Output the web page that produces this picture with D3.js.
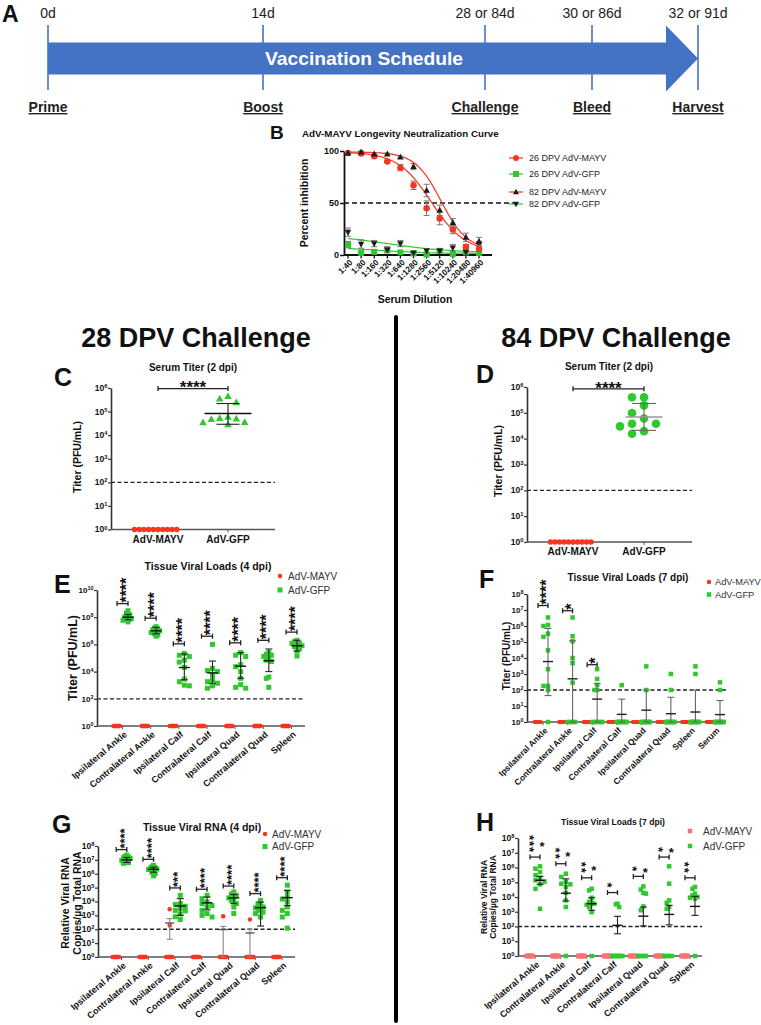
<!DOCTYPE html>
<html><head><meta charset="utf-8">
<script src="https://cdn.jsdelivr.net/npm/d3@7"></script>
<style>body{margin:0;background:#fff}svg{display:block}</style>
</head><body>
<script>
// ================= DATA =================
// Panel A – schedule
const scheduleDayLabels = ["0d","14d","28 or 84d","30 or 86d","32 or 91d"];
const scheduleEvents = ["Prime","Boost","Challenge","Bleed","Harvest"];
const scheduleDays = [0,14,28,30,32];
const scheduleTitle = "Vaccination Schedule";

// Panel B – neutralization
const dilutions = ["1:40","1:80","1:160","1:320","1:640","1:1280","1:2560","1:5120","1:10240","1:20480","1:40960"];
const bNames = ["26 DPV AdV-MAYV","26 DPV AdV-GFP","82 DPV AdV-MAYV","82 DPV AdV-GFP"];
const mayv26 = [98,97.5,95,90,84,67,45,35,24.5,8,6];
const mayv26Err = [1.5,1.5,1.5,1,3,4,7,6,4,2,1.5];
const gfp26 = [10,2,3,5,2.5,1.5,0.5,4,1,2.5,2];
const gfp26Err = [3,1,1,2,1,1,1,1,1,1,1];
const mayv82 = [98,99,97,97,94,85,62,43,31,17,13];
const mayv82Err = [1.5,1,1,1,1,3,6,5,4,4,4];
const gfp82 = [22,10.5,11,5,11,2,4,4,7,3,10];
const gfp82Err = [4,4,3,3,3,1,2,2,3,2,3];
// fitted curves: [top, bottom, mid (dilution index), slope]
const fit26MAYV = [99,3,6.36,0.78];
const fit26GFP = [8,1.5,2,0.5];
const fit82MAYV = [99,5,7.1,1.01];
const fit82GFP = [20,2,3,0.4];

// Panels C / D – serum titer
const serumGroups = ["AdV-MAYV","AdV-GFP"];
const lod10 = [1,1,1,1,1,1,1,1,1,1];
const cGFP = [4.4e5,2.4e5,3.5e5,5.2e4,4.7e4,3.5e4,5.8e4,4.9e4,2.8e4,3.4e4];
const cGFPStats = [8.3e4,2.2e5,2.9e4]; // mean, hi, lo
const cSig = [9.5e5,"****"];
const dGFP = [4.0e5,4.0e5,1.95e5,9.8e4,6.0e4,3.8e4,3.0e4,3.8e4,1.55e4,1.95e4];
const dGFPStats = [6.9e4,2.3e5,2.1e4];
const dSig = [8.5e5,"****"];

// Panel E – tissue viral loads 4 dpi
const tissues7 = ["Ipsilateral Ankle","Contralateral Ankle","Ipsilateral Calf","Contralateral Calf","Ipsilateral Quad","Contralateral Quad","Spleen"];
const eMAYV = [lod10,lod10,lod10,lod10,lod10,lod10,lod10];
const eGFP = [
 [3.0e8,2.0e8,1.5e8,1.2e8,1.0e8,9.0e7,8.0e7,7.0e7,6.0e7,4.5e7],
 [2.0e7,1.6e7,1.4e7,1.2e7,1.0e7,9.0e6,7.5e6,6.0e6,5.0e6,4.0e6],
 [2.2e5,1.6e5,1.3e5,7.0e4,5.0e4,2.0e4,2.8e3,1.8e3,1.0e3,9.0e2],
 [1.0e6,1.7e4,1.2e4,1.0e4,5.6e3,2.5e3,1.8e3,1.4e3,9.0e2,6.0e2],
 [2.5e5,1.6e5,1.3e5,3.2e4,2.3e4,1.0e4,3.2e3,1.1e3,7.0e2,6.0e2],
 [2.5e5,1.9e5,1.6e5,1.3e5,9.0e4,7.0e4,5.5e4,4.0e3,3.2e3,7.0e2],
 [2.0e6,1.6e6,1.2e6,1.2e6,9.0e5,8.0e5,7.0e5,5.0e5,3.2e5,1.4e5]
];
const eGFPMean = [1.0e8,1.0e7,2.0e4,8.0e3,2.5e4,6.3e4,8.0e5];
const eGFPHi = [1.6e8,1.8e7,2.0e5,6.0e4,2.5e5,4.6e5,2.0e6];
const eGFPLo = [6.5e7,6.0e6,2.5e3,1.4e3,3.2e3,1.0e4,3.2e5];
const eBracket = [1.0e9,8.5e7,1.1e6,4.0e6,1.3e6,2.0e6,8.0e6];
const eStars = ["****","****","****","****","****","****","****"];

// Panel F – tissue viral loads 7 dpi
const tissues8 = ["Ipsilateral Ankle","Contralateral Ankle","Ipsilateral Calf","Contralateral Calf","Ipsilateral Quad","Contralateral Quad","Spleen","Serum"];
const fMAYV = [lod10,lod10,lod10,lod10,lod10,lod10,lod10,lod10];
const fGFP = [
 [3.4e6,1.15e6,1.0e6,3.3e5,2.1e5,3.0e4,2.0e3,1.8e2,1.8e2,1.0e2,1],
 [3.4e6,2.3e5,1.1e5,1.0e4,4.8e3,2.9e2,1,1,1,1],
 [2.0e3,4.9e2,2.1e2,1.0e2,1.0e2,1,1,1,1,1],
 [2.0e2,1,1,1,1,1,1,1,1,1],
 [3.0e3,1.0e2,1,1,1,1,1,1,1,1],
 [1.0e3,1.0e2,1,1,1,1,1,1,1,1],
 [3.0e3,1.0e3,1,1,1,1,1,1,1,1],
 [3.0e2,1.0e2,1,1,1,1,1,1,1,1]
];
const fGFPMean = [6.0e3,5.0e2,27,3,5.5,3.3,4.2,2.9];
const fGFPHi = [7.0e5,1.2e5,2.5e2,27,1.0e2,35,1.0e2,22];
const fGFPLo = [45,1,1,1,1,1,1,1];
const fBracket = [1.9e7,9.0e6,3.8e3,null,null,null,null,null];
const fStars = ["****","*","*","","","","",""];

// Panel G – tissue viral RNA 4 dpi
const gMAYV = [lod10,lod10,[2.75e3,1.9e2,1,1,1,1,1,1,1,1],lod10,[8.5e2,1,1,1,1,1,1,1,1,1],[5.0e2,1,1,1,1,1,1,1,1,1],lod10];
const gMAYVMean = [null,null,2.8e2,null,95,54,null];
const gMAYVHi = [null,null,5.8e2,null,1.6e2,1.0e2,null];
const gMAYVLo = [null,null,19,null,1,1,null];
const gGFP = [
 [2.2e7,1.8e7,1.6e7,1.4e7,1.26e7,1.0e7,8.9e6,7.9e6,6.3e6,5.6e6],
 [4.0e6,3.2e6,2.8e6,2.5e6,2.2e6,2.0e6,1.6e6,1.26e6,1.0e6,7.0e5],
 [2.8e4,7.0e3,6.0e3,4.5e3,3.1e3,2.3e3,2.1e3,1.26e3,8.0e2,5.0e2],
 [2.8e4,1.6e4,9.3e3,7.0e3,5.0e3,4.0e3,2.3e3,1.35e3,1.0e3,7.6e2],
 [4.9e4,3.5e4,2.8e4,2.2e4,1.8e4,1.2e4,1.0e4,7.0e3,4.0e3,1.35e3],
 [1.2e4,7.0e3,5.0e3,4.0e3,3.5e3,2.8e3,2.3e3,1.7e3,1.35e3,7.6e2],
 [1.5e5,4.9e4,2.1e4,1.5e4,9.3e3,4.0e3,2.3e3,1.35e3,7.6e2,1.2e2]
];
const gGFPMean = [1.0e7,2.1e6,4.8e3,8.0e3,1.8e4,3.6e3,1.9e4];
const gGFPHi = [1.5e7,3.0e6,1.6e4,2.1e4,3.2e4,9.0e3,6.3e4];
const gGFPLo = [6.5e6,1.3e6,1.0e3,2.5e3,7.0e3,1.7e2,5.0e3];
const gBracket = [5.5e7,1.1e7,9.5e4,7.6e4,1.3e5,3.7e4,5.2e5];
const gStars = ["****","****","***","****","****","****","****"];

// Panel H – tissue viral RNA 7 dpi
const hMAYV = [lod10,lod10,lod10,lod10,lod10,lod10,lod10];
const hGFP = [
 [1.2e6,8.3e5,4.9e5,3.0e5,2.0e5,1.35e5,1.1e5,7.2e4,3.6e4,1.6e3],
 [3.8e5,2.3e5,1.05e5,8.0e4,7.2e4,4.8e4,1.9e4,5.9e3,2.1e3,1],
 [3.6e4,2.8e4,8.9e3,4.6e3,4.0e3,3.5e3,3.0e3,2.1e3,9.5e2,1],
 [3.5e3,3.2e3,2.1e3,1,1,1,1,1,1,1],
 [5.2e4,3.2e4,1.9e4,1.7e4,2.3e3,1.26e3,1,1,1,1],
 [1.2e6,8.0e4,5.9e3,4.0e3,2.1e3,1.6e3,1,1,1,1],
 [4.8e4,3.6e4,1.7e4,1.3e4,1.0e4,9.0e3,7.8e3,1]
];
const hGFPMean = [1.35e5,1.8e4,3.5e3,1.2e2,5.0e2,6.6e2,2.3e3];
const hGFPHi = [2.5e5,1.7e5,8.9e3,4.9e2,2.1e3,2.7e3,1.1e4];
const hGFPLo = [7.2e4,5.4e3,1.26e3,32,1.1e2,1.3e2,5.7e2];
const hBracket = [5.1e6,1.8e6,2.0e5,2.0e4,2.5e5,5.1e6,2.0e5];
const hStarCols = [[3,1],[2,1],[2,1],[1,0],[1,1],[1,1],[2,0]];

const legendNames = ["AdV-MAYV","AdV-GFP"];

// ================= DRAWING =================
const FONT = "'Liberation Sans', Arial, Helvetica, sans-serif";
const RED = "#f9341f", GREEN = "#2fc82f", SALMON = "#f77272", INK = "#111";
const svg = d3.select("body").append("svg").attr("width",761).attr("height",1025)
  .style("font-family",FONT);

function addText(x,y,str,o={}){
  const t = svg.append("text")
    .attr("transform",`translate(${x},${y})`+(o.rotate?` rotate(${o.rotate})`:""))
    .attr("font-size",o.size||10).attr("font-weight",o.weight||"bold")
    .attr("text-anchor",o.anchor||"middle").attr("fill",o.fill||INK).text(str);
  if(o.baseline) t.attr("dominant-baseline",o.baseline);
  if(o.stretch) t.attr("textLength",o.stretch).attr("lengthAdjust","spacingAndGlyphs");
  return t;
}

function marker(g,shape,x,y,size,color){
  if(shape==="circle") g.append("circle").attr("cx",x).attr("cy",y).attr("r",size/2).attr("fill",color);
  else if(shape==="square") g.append("rect").attr("x",x-size/2).attr("y",y-size/2).attr("width",size).attr("height",size).attr("fill",color);
  else {
    const s = shape==="triangle"?1:-1, h=size*0.9;
    g.append("path").attr("d",`M${x},${y-s*h*0.6}L${x+size/2},${y+s*h*0.4}L${x-size/2},${y+s*h*0.4}Z`).attr("fill",color);
  }
}

function swarm(vals,y,cx,step,rad,maxW){
  const pts = vals.map((v,i)=>({v,py:y(v),i,off:0}));
  const order = pts.slice().sort((a,b)=>a.py-b.py);
  const placed=[];
  order.forEach(p=>{
    for(let k=0;k<60;k++){
      const off=(k%2===1?-1:1)*Math.ceil(k/2)*step;
      if(!placed.some(q=>Math.abs(q.off-off)<step*0.99 && Math.abs(q.py-p.py)<rad)){p.off=off;break;}
    }
    placed.push(p);
  });
  const m = d3.max(pts,p=>Math.abs(p.off))||0;
  const s = m>maxW? maxW/m:1;
  return pts.map(p=>cx+p.off*s);
}

function errBar(g,cx,ym,yh,yl,meanW,capW,errColor,meanColor){
  g.append("line").attr("x1",cx).attr("x2",cx).attr("y1",yh).attr("y2",yl).attr("stroke",errColor).attr("stroke-width",1.1);
  [yh,yl].forEach(yy=>g.append("line").attr("x1",cx-capW/2).attr("x2",cx+capW/2).attr("y1",yy).attr("y2",yy).attr("stroke",errColor).attr("stroke-width",1.1));
  g.append("line").attr("x1",cx-meanW/2).attr("x2",cx+meanW/2).attr("y1",ym).attr("y2",ym).attr("stroke",meanColor).attr("stroke-width",1.4);
}

function bracket(g,xa,xb,yy){
  g.append("line").attr("x1",xa).attr("x2",xb).attr("y1",yy).attr("y2",yy).attr("stroke","#222").attr("stroke-width",1.3);
  [xa,xb].forEach(xx=>g.append("line").attr("x1",xx).attr("x2",xx).attr("y1",yy-2.5).attr("y2",yy+2.5).attr("stroke","#222").attr("stroke-width",1.3));
}

function dotPanel(o){
  const g = svg.append("g");
  const y = d3.scaleLog().domain([1,Math.pow(10,o.maxDec)]).range([o.y0,o.yTop]);
  const xc = d3.scalePoint().domain(o.cats).range([o.c0,o.c1]);
  // limit of detection
  g.append("line").attr("x1",o.x0).attr("x2",o.x1).attr("y1",y(100)).attr("y2",y(100))
    .attr("stroke","#222").attr("stroke-width",1.3).attr("stroke-dasharray","4,2.5");
  // y axis
  const yg = g.append("g").attr("transform",`translate(${o.x0},0)`)
    .call(d3.axisLeft(y).tickValues(o.ticks).tickSize(3).tickSizeOuter(0).tickFormat(()=>""));
  yg.select(".domain").attr("stroke","#333").attr("stroke-width",1.6);
  yg.selectAll(".tick line").attr("stroke","#333").attr("stroke-width",1.2);
  yg.selectAll(".tick text").remove();
  o.ticks.forEach(t=>{
    const tt = g.append("text").attr("x",o.x0-3.5).attr("y",y(t)).attr("dy","0.35em").attr("text-anchor","end")
      .attr("font-size",o.tickFont).attr("font-weight","bold").attr("fill",INK);
    tt.append("tspan").text("10");
    tt.append("tspan").attr("dy","-0.5em").attr("font-size",o.tickFont*0.68).text(Math.round(Math.log10(t)));
  });
  // x axis
  g.append("line").attr("x1",o.x0).attr("x2",o.x1).attr("y1",o.y0).attr("y2",o.y0).attr("stroke","#555").attr("stroke-width",1.6);
  o.cats.forEach(c=>g.append("line").attr("x1",xc(c)).attr("x2",xc(c)).attr("y1",o.y0).attr("y2",o.y0+3).attr("stroke","#555").attr("stroke-width",1));
  // series
  o.series.forEach(s=>{
    o.cats.forEach((c,ci)=>{
      const vals = s.data[ci]; if(!vals||!vals.length) return;
      const cx = xc(c)+s.dx;
      const xs = swarm(vals,y,cx,s.step,s.rad,s.maxW);
      vals.forEach((v,i)=>marker(g,s.shape,xs[i],y(v),s.size,s.color));
    });
  });
  o.series.forEach(s=>{
    if(!s.mean) return;
    o.cats.forEach((c,ci)=>{
      if(s.mean[ci]==null) return;
      const cx = xc(c)+s.dx;
      errBar(g,cx,y(s.mean[ci]),y(s.hi[ci]),y(s.lo[ci]),s.meanW,s.capW,s.errColor,s.meanColor);
    });
  });
  // significance
  if(o.brackets){
    o.cats.forEach((c,ci)=>{
      const bv=o.brackets[ci]; if(bv==null) return;
      const xa=xc(c)+o.bL, xb=xc(c)+o.bR, by=y(bv), mid=(xa+xb)/2;
      bracket(g,xa,xb,by);
      if(o.starMode==="v" && o.stars[ci]){
        g.append("text").attr("transform",`translate(${mid},${by-1}) rotate(-90)`).attr("dy","0.57em")
          .attr("font-size",o.starFont).attr("font-weight","bold").attr("fill",INK).text(o.stars[ci]);
      } else if(o.starMode==="grid"){
        const [nl,nr]=o.starCols[ci];
        // left column: one vertical run of asterisks
        g.append("text").attr("transform",`translate(${mid-2.5},${by-4}) rotate(90)`).attr("dy","0.57em")
          .attr("text-anchor","end").attr("letter-spacing",1).attr("font-size",o.starFont)
          .attr("font-weight","bold").attr("fill",INK).text("*".repeat(nl));
        if(nr>0){
          const colH = nl*(0.389*o.starFont+1);
          g.append("text").attr("x",mid+7).attr("y",by-4-colH/2).attr("dy","0.57em").attr("text-anchor","middle")
            .attr("font-size",o.starFont).attr("font-weight","bold").attr("fill",INK).text("*".repeat(nr));
        }
      }
    });
  }
  if(o.span){
    const xa=xc(o.cats[0]), xb=xc(o.cats[1]), by=y(o.span[0]);
    bracket(g,xa,xb,by);
    g.append("text").attr("x",(xa+xb)/2).attr("y",by-5).attr("dy","0.57em").attr("text-anchor","middle")
      .attr("font-size",o.starFont).attr("font-weight","bold").attr("fill",INK).text(o.span[1]);
  }
  // x labels
  o.cats.forEach(c=>{
    if(o.xRot){
      g.append("text").attr("transform",`translate(${xc(c)+3},${o.y0+7}) rotate(${o.xRot})`)
        .attr("dy","0.35em").attr("text-anchor","end").attr("font-size",o.xFont).attr("font-weight","bold").attr("fill",INK).text(c);
    } else {
      g.append("text").attr("x",xc(c)).attr("y",o.y0+13).attr("text-anchor","middle")
        .attr("font-size",o.xFont).attr("font-weight","bold").attr("fill",INK).text(c);
    }
  });
  // legend
  if(o.legend){
    o.legend.items.forEach((it,i)=>{
      const ly=o.legend.y+i*o.legend.dy;
      marker(g,it.shape,o.legend.x,ly,it.size,it.color);
      g.append("text").attr("x",o.legend.x+o.legend.tx).attr("y",ly).attr("dy","0.35em")
        .attr("font-size",o.legend.size||10).attr("fill","#333").text(it.name);
    });
  }
  return {y,xc};
}

// ---------- Panel A ----------
const blue="#4472c4";
const tx = d3.scaleLinear().domain(scheduleDays).range([48,263,485,592,698]);
const aMid=58.5, bodyHalf=16, headHalf=33, headLen=32;
scheduleDays.forEach((d,i)=>{
  svg.append("line").attr("x1",tx(d)).attr("x2",tx(d)).attr("y1",25).attr("y2",90).attr("stroke",blue).attr("stroke-width",1.6);
  addText(tx(d),18,scheduleDayLabels[i],{size:14,weight:"normal",fill:"#222"});
  addText(tx(d),112,scheduleEvents[i],{size:14,weight:"bold",fill:"#222"}).attr("text-decoration","underline");
});
const x0=tx(scheduleDays[0]), xe=tx(scheduleDays[scheduleDays.length-1]);
svg.append("path").attr("fill",blue).attr("d",d3.line()([
  [x0,aMid-bodyHalf],[xe-headLen,aMid-bodyHalf],[xe-headLen,aMid-headHalf],[xe,aMid],
  [xe-headLen,aMid+headHalf],[xe-headLen,aMid+bodyHalf],[x0,aMid+bodyHalf]])+"Z");
addText(364,aMid,scheduleTitle,{size:19,fill:"#fff",baseline:"central",stretch:198});
addText(2,22,"A",{size:23,anchor:"start"});

// ---------- Panel B ----------
const bx = d3.scalePoint().domain(dilutions).range([348,479]);
const bxi = d3.scaleLinear().domain([0,dilutions.length-1]).range([348,479]);
const byS = d3.scaleLinear().domain([0,100]).range([255,151]);
const gb = svg.append("g");
gb.append("line").attr("x1",344).attr("x2",520).attr("y1",byS(50)).attr("y2",byS(50))
  .attr("stroke","#111").attr("stroke-width",1.5).attr("stroke-dasharray","5,3");
const bya = gb.append("g").attr("transform","translate(344,0)")
  .call(d3.axisLeft(byS).tickValues([0,50,100]).tickSize(4).tickSizeOuter(0));
bya.attr("font-family",null).attr("font-size",null);
bya.select(".domain").attr("stroke","#111").attr("stroke-width",1.8);
bya.selectAll(".tick line").attr("stroke","#111").attr("stroke-width",1.5);
bya.selectAll(".tick text").attr("font-size",9).attr("font-weight","bold").attr("fill",INK).attr("x",-5);
gb.append("line").attr("x1",344).attr("x2",492).attr("y1",255).attr("y2",255).attr("stroke","#111").attr("stroke-width",1.8);
dilutions.forEach(d=>{
  gb.append("line").attr("x1",bx(d)).attr("x2",bx(d)).attr("y1",255).attr("y2",258.5).attr("stroke","#111").attr("stroke-width",1.3);
  gb.append("text").attr("transform",`translate(${bx(d)+3},${261}) rotate(-45)`).attr("dy","0.35em")
    .attr("text-anchor","end").attr("font-size",8.2).attr("font-weight","bold").attr("fill",INK).text(d);
});
function logistic(p,t){return p[1]+(p[0]-p[1])/(1+Math.exp(p[3]*(t-p[2])));}
const tGrid = d3.range(0,dilutions.length-1+0.001,0.1);
const curveLine = d3.line().x(t=>bxi(t));
[[fit26MAYV,RED],[fit82MAYV,RED],[fit26GFP,GREEN],[fit82GFP,GREEN]].forEach(([p,c])=>{
  gb.append("path").attr("d",curveLine.y(t=>byS(logistic(p,t)))(tGrid)).attr("fill","none").attr("stroke",c).attr("stroke-width",1.2);
});
const bSeries = [
  {v:gfp26,e:gfp26Err,shape:"square",color:GREEN,size:6},
  {v:gfp82,e:gfp82Err,shape:"triangleDown",color:"#1c1c1c",size:6.5},
  {v:mayv26,e:mayv26Err,shape:"circle",color:RED,size:6.5},
  {v:mayv82,e:mayv82Err,shape:"triangle",color:"#1c1c1c",size:6.5}
];
bSeries.forEach(s=>{
  s.v.forEach((v,i)=>{
    const xx=bx(dilutions[i]);
    const y1=byS(Math.min(100,v+s.e[i])), y2=byS(Math.max(0,v-s.e[i]));
    gb.append("line").attr("x1",xx).attr("x2",xx).attr("y1",y1).attr("y2",y2).attr("stroke","#777").attr("stroke-width",1);
    [y1,y2].forEach(yy=>gb.append("line").attr("x1",xx-3).attr("x2",xx+3).attr("y1",yy).attr("y2",yy).attr("stroke","#777").attr("stroke-width",1));
    marker(gb,s.shape,xx,byS(v),s.size,s.color);
  });
});
const bLegend = [
  {shape:"circle",color:RED,line:RED,y:158},
  {shape:"square",color:GREEN,line:GREEN,y:174},
  {shape:"triangle",color:"#1c1c1c",line:RED,y:192},
  {shape:"triangleDown",color:"#1c1c1c",line:GREEN,y:204}
];
bLegend.forEach((l,i)=>{
  gb.append("line").attr("x1",509).attr("x2",523).attr("y1",l.y).attr("y2",l.y).attr("stroke",l.line).attr("stroke-width",1.2);
  marker(gb,l.shape,516,l.y,6,l.color);
  gb.append("text").attr("x",529).attr("y",l.y).attr("dy","0.35em").attr("font-size",9).attr("fill","#222").text(bNames[i]);
});
addText(302,137,"AdV-MAYV Longevity Neutralization Curve",{size:9.8,anchor:"start"});
addText(304,203,"Percent inhibition",{size:10.5,rotate:-90,baseline:"central"});
addText(415,303,"Serum Dilution",{size:10.5});
addText(270,139,"B",{size:19,anchor:"start"});

// ---------- Divider & headings ----------
svg.append("line").attr("x1",396).attr("x2",396).attr("y1",317).attr("y2",1021).attr("stroke","#000").attr("stroke-width",4).attr("stroke-linecap","round");
addText(196,347,"28 DPV Challenge",{size:27});
addText(616,347,"84 DPV Challenge",{size:27});

// ---------- Panel C ----------
dotPanel({cats:serumGroups,maxDec:6,y0:529.5,yTop:388,x0:111,x1:275,c0:158,c1:228,
  ticks:[1,10,100,1e3,1e4,1e5,1e6],tickFont:8.5,xFont:10,xRot:0,starFont:17,
  span:cSig,
  series:[
    {data:[lod10,null],dx:0,shape:"circle",color:RED,size:5.5,step:4.7,rad:5,maxW:25},
    {data:[null,cGFP],dx:0,shape:"triangle",color:GREEN,size:7.5,step:10.7,rad:6.5,maxW:25,
     mean:[null,cGFPStats[0]],hi:[null,cGFPStats[1]],lo:[null,cGFPStats[2]],meanW:47,capW:23,errColor:"#222",meanColor:"#111"}
  ]});
addText(193,371,"Serum Titer (2 dpi)",{size:10});
addText(77,457,"Titer (PFU/mL)",{size:10.5,rotate:-90,baseline:"central"});
addText(54,386,"C",{size:25,anchor:"start"});

// ---------- Panel D ----------
dotPanel({cats:serumGroups,maxDec:6,y0:542,yTop:387,x0:527,x1:692,c0:573,c1:644,
  ticks:[1,10,100,1e3,1e4,1e5,1e6],tickFont:8.5,xFont:10,xRot:0,starFont:17,
  span:dSig,
  series:[
    {data:[lod10,null],dx:0,shape:"circle",color:RED,size:5.5,step:4.5,rad:5,maxW:25},
    {data:[null,dGFP],dx:0,shape:"circle",color:GREEN,size:8.6,step:12,rad:8,maxW:25,
     mean:[null,dGFPStats[0]],hi:[null,dGFPStats[1]],lo:[null,dGFPStats[2]],meanW:37,capW:24,errColor:"#666",meanColor:"#999"}
  ]});
addText(609,370,"Serum Titer (2 dpi)",{size:10});
addText(498,461,"Titer (PFU/mL)",{size:10.5,rotate:-90,baseline:"central"});
addText(476,383,"D",{size:25,anchor:"start"});

// ---------- Panel E ----------
dotPanel({cats:tissues7,maxDec:10,y0:726,yTop:590,x0:97,x1:305,c0:122.5,c1:291.5,
  ticks:[1,1e2,1e4,1e6,1e8,1e10],tickFont:8,xFont:9,xRot:-40,starFont:16,
  brackets:eBracket,stars:eStars,starMode:"v",bL:-5.5,bR:5.5,
  series:[
    {data:eMAYV,dx:-5.5,shape:"circle",color:RED,size:4.5,step:4,rad:4,maxW:3.5},
    {data:eGFP,dx:5.5,shape:"square",color:GREEN,size:5,step:5,rad:4.5,maxW:5,
     mean:eGFPMean,hi:eGFPHi,lo:eGFPLo,meanW:11,capW:7,errColor:"#222",meanColor:"#111"}
  ],
  legend:{x:280,y:576,dy:14,tx:8,items:[{shape:"circle",color:RED,size:4.5,name:legendNames[0]},{shape:"square",color:GREEN,size:5,name:legendNames[1]}]}
});
addText(208,570,"Tissue Viral Loads (4 dpi)",{size:10.5});
addText(73,658,"Titer (PFU/mL)",{size:12.5,rotate:-90,baseline:"central"});
addText(54,593,"E",{size:25,anchor:"start"});

// ---------- Panel F ----------
dotPanel({cats:tissues8,maxDec:8,y0:722,yTop:594,x0:527,x1:726,c0:543,c1:715,
  ticks:[1,10,100,1e3,1e4,1e5,1e6,1e7,1e8],tickFont:8,xFont:8.5,xRot:-45,starFont:16,
  brackets:fBracket,stars:fStars,starMode:"v",bL:-5,bR:5,
  series:[
    {data:fMAYV,dx:-5,shape:"circle",color:RED,size:4,step:4,rad:4,maxW:3.5},
    {data:fGFP,dx:5,shape:"square",color:GREEN,size:4.5,step:4.5,rad:4,maxW:5,
     mean:fGFPMean,hi:fGFPHi,lo:fGFPLo,meanW:10,capW:7,errColor:"#666",meanColor:"#222"}
  ],
  legend:{x:709,y:582,dy:12.5,tx:6,size:9.3,items:[{shape:"circle",color:RED,size:4.5,name:legendNames[0]},{shape:"square",color:GREEN,size:4.5,name:legendNames[1]}]}
});
addText(628,581,"Tissue Viral Loads (7 dpi)",{size:10});
addText(506,656,"Titer (PFU/mL)",{size:10,rotate:-90,baseline:"central"});
addText(479,588,"F",{size:25,anchor:"start"});

// ---------- Panel G ----------
dotPanel({cats:tissues7,maxDec:8,y0:957,yTop:846,x0:98,x1:295,c0:121.5,c1:282,
  ticks:[1,10,100,1e3,1e4,1e5,1e6,1e7,1e8],tickFont:8.5,xFont:9,xRot:-40,starFont:13,
  brackets:gBracket,stars:gStars,starMode:"v",bL:-5.3,bR:5.3,
  series:[
    {data:gMAYV,dx:-5.3,shape:"circle",color:RED,size:4.5,step:4,rad:4,maxW:3.5,
     mean:gMAYVMean,hi:gMAYVHi,lo:gMAYVLo,meanW:9,capW:6,errColor:"#888",meanColor:"#555"},
    {data:gGFP,dx:5.3,shape:"square",color:GREEN,size:5,step:5,rad:4.5,maxW:5,
     mean:gGFPMean,hi:gGFPHi,lo:gGFPLo,meanW:11,capW:7,errColor:"#222",meanColor:"#111"}
  ],
  legend:{x:265,y:834,dy:12.5,tx:7,items:[{shape:"circle",color:RED,size:4.5,name:legendNames[0]},{shape:"square",color:GREEN,size:5,name:legendNames[1]}]}
});
addText(202,831,"Tissue Viral RNA (4 dpi)",{size:10.5});
addText(65,903,"Relative Viral RNA",{size:10.5,rotate:-90,baseline:"central"});
addText(77,903,"Copies/\u00b5g Total RNA",{size:10.5,rotate:-90,baseline:"central"});
addText(52,833,"G",{size:25,anchor:"start"});

// ---------- Panel H ----------
dotPanel({cats:tissues7,maxDec:8,y0:956,yTop:838,x0:518,x1:702,c0:535,c1:690,
  ticks:[1,10,100,1e3,1e4,1e5,1e6,1e7,1e8],tickFont:8.5,xFont:9,xRot:-40,starFont:13,
  brackets:hBracket,starCols:hStarCols,starMode:"grid",bL:-5,bR:5,
  series:[
    {data:hMAYV,dx:-5,shape:"square",color:SALMON,size:4.5,step:4,rad:4,maxW:3.5},
    {data:hGFP,dx:5,shape:"square",color:GREEN,size:4.5,step:4.5,rad:4.5,maxW:5,
     mean:hGFPMean,hi:hGFPHi,lo:hGFPLo,meanW:10,capW:7,errColor:"#222",meanColor:"#111"}
  ],
  legend:{x:690,y:831,dy:15,tx:13,items:[{shape:"square",color:SALMON,size:4.5,name:legendNames[0]},{shape:"square",color:GREEN,size:4.5,name:legendNames[1]}]}
});
addText(613,825,"Tissue Viral Loads (7 dpi)",{size:8.6});
addText(484,897,"Relative Viral RNA",{size:8.5,rotate:-90,baseline:"central"});
addText(493,897,"Copies/\u00b5g Total RNA",{size:8.5,rotate:-90,baseline:"central"});
addText(476,831,"H",{size:25,anchor:"start"});
</script>
</body></html>
